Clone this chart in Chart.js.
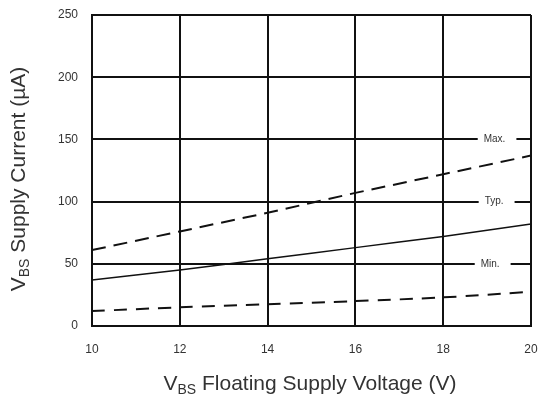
<!DOCTYPE html>
<html>
<head>
<meta charset="utf-8">
<script src="https://cdn.jsdelivr.net/npm/chart.js@4/dist/chart.umd.min.js"></script>
<style>
  html, body { margin: 0; padding: 0; background: #fff; }
  #wrap { width: 547px; height: 403px; }
</style>
</head>
<body>
<div id="wrap"><canvas id="c" width="547" height="403"></canvas></div>
<script>
// Supply voltage points (V)
const voltages = [10, 12, 14, 16, 18, 20];
// Supply current (uA)
const maxCurrent = [61, 76, 91, 107, 122, 137];
const typCurrent = [37, 45, 54, 63, 72, 82];
const minCurrent = [12, 15, 17.5, 20, 23, 27.5];

const yTicks = [0, 50, 100, 150, 200, 250];
const curveLabels = [
    { text: 'Max.', x: 19.17, y: 150 },
    { text: 'Typ.', x: 19.16, y: 100 },
    { text: 'Min.', x: 19.07, y: 50 }
];

const FONT = '"Liberation Sans", Arial, sans-serif';

function toPoints(vals) {
    return voltages.map((v, i) => ({ x: v, y: vals[i] }));
}

function setPartFont(ctx, p) {
    ctx.font = (p.sub ? '14px ' : '21px ') + FONT;
}

// draws text with a subscript part, starting at x
function drawSubText(ctx, parts, x, y) {
    let cx = x;
    parts.forEach(p => {
        setPartFont(ctx, p);
        ctx.fillText(p.t, cx, y + (p.sub ? 6 : 0));
        cx += ctx.measureText(p.t).width;
    });
}

function measureSubText(ctx, parts) {
    let w = 0;
    parts.forEach(p => {
        setPartFont(ctx, p);
        w += ctx.measureText(p.t).width;
    });
    return w;
}

const labelsPlugin = {
    id: 'labels',
    afterDraw(chart) {
        const ctx = chart.ctx;
        const xs = chart.scales.x, ys = chart.scales.y;
        ctx.save();
        // curve labels with a white box over the grid line
        ctx.font = '10px ' + FONT;
        ctx.textAlign = 'center';
        ctx.textBaseline = 'middle';
        curveLabels.forEach(l => {
            const px = xs.getPixelForValue(l.x);
            const py = ys.getPixelForValue(l.y);
            const w = ctx.measureText(l.text).width;
            ctx.fillStyle = '#fff';
            ctx.fillRect(px - w / 2 - 6, py - 3, w + 17, 6);
            ctx.fillStyle = '#333';
            ctx.fillText(l.text, px, py);
        });

        ctx.textAlign = 'left';
        ctx.textBaseline = 'middle';
        ctx.fillStyle = '#333';
        // x axis title
        const xParts = [{ t: 'V' }, { t: 'BS', sub: true }, { t: ' Floating Supply Voltage (V)' }];
        const xw = measureSubText(ctx, xParts);
        drawSubText(ctx, xParts, 310 - xw / 2, 384);

        // y axis title
        const yParts = [{ t: 'V' }, { t: 'BS', sub: true }, { t: ' Supply Current (\u00b5A)' }];
        const yw = measureSubText(ctx, yParts);
        ctx.translate(19, 179);
        ctx.rotate(-Math.PI / 2);
        drawSubText(ctx, yParts, -yw / 2, 0);
        ctx.restore();
    }
};

const ctx = document.getElementById('c').getContext('2d');
new Chart(ctx, {
    type: 'line',
    data: {
        datasets: [
            {
                label: 'Max.',
                data: toPoints(maxCurrent),
                borderColor: '#111',
                borderWidth: 2,
                borderDash: [14, 8],
                pointRadius: 0,
                tension: 0
            },
            {
                label: 'Typ.',
                data: toPoints(typCurrent),
                borderColor: '#111',
                borderWidth: 1.5,
                pointRadius: 0,
                tension: 0.3
            },
            {
                label: 'Min.',
                data: toPoints(minCurrent),
                borderColor: '#111',
                borderWidth: 2,
                borderDash: [13, 9],
                pointRadius: 0,
                tension: 0.3
            }
        ]
    },
    options: {
        responsive: false,
        animation: false,
        layout: { padding: { left: 0, right: 16, top: 15, bottom: 0 } },
        plugins: {
            legend: { display: false },
            tooltip: { enabled: false }
        },
        scales: {
            x: {
                type: 'linear',
                min: 10,
                max: 20,
                afterBuildTicks: s => { s.ticks = voltages.map(v => ({ value: v })); },
                afterFit: s => { s.height = 77; s.paddingLeft = 0; s.paddingRight = 0; },
                grid: { color: '#111', lineWidth: 2, drawTicks: false },
                border: { color: '#111', width: 2 },
                ticks: {
                    color: '#333',
                    padding: 16,
                    font: { family: FONT, size: 12 }
                }
            },
            y: {
                min: 0,
                max: 250,
                afterBuildTicks: s => { s.ticks = yTicks.map(v => ({ value: v })); },
                afterFit: s => { s.width = 92; s.paddingTop = 0; s.paddingBottom = 0; },
                grid: { color: '#111', lineWidth: 2, drawTicks: false },
                border: { color: '#111', width: 2 },
                ticks: {
                    color: '#333',
                    padding: 14,
                    font: { family: FONT, size: 12 }
                }
            }
        }
    },
    plugins: [labelsPlugin]
});
</script>
</body>
</html>
